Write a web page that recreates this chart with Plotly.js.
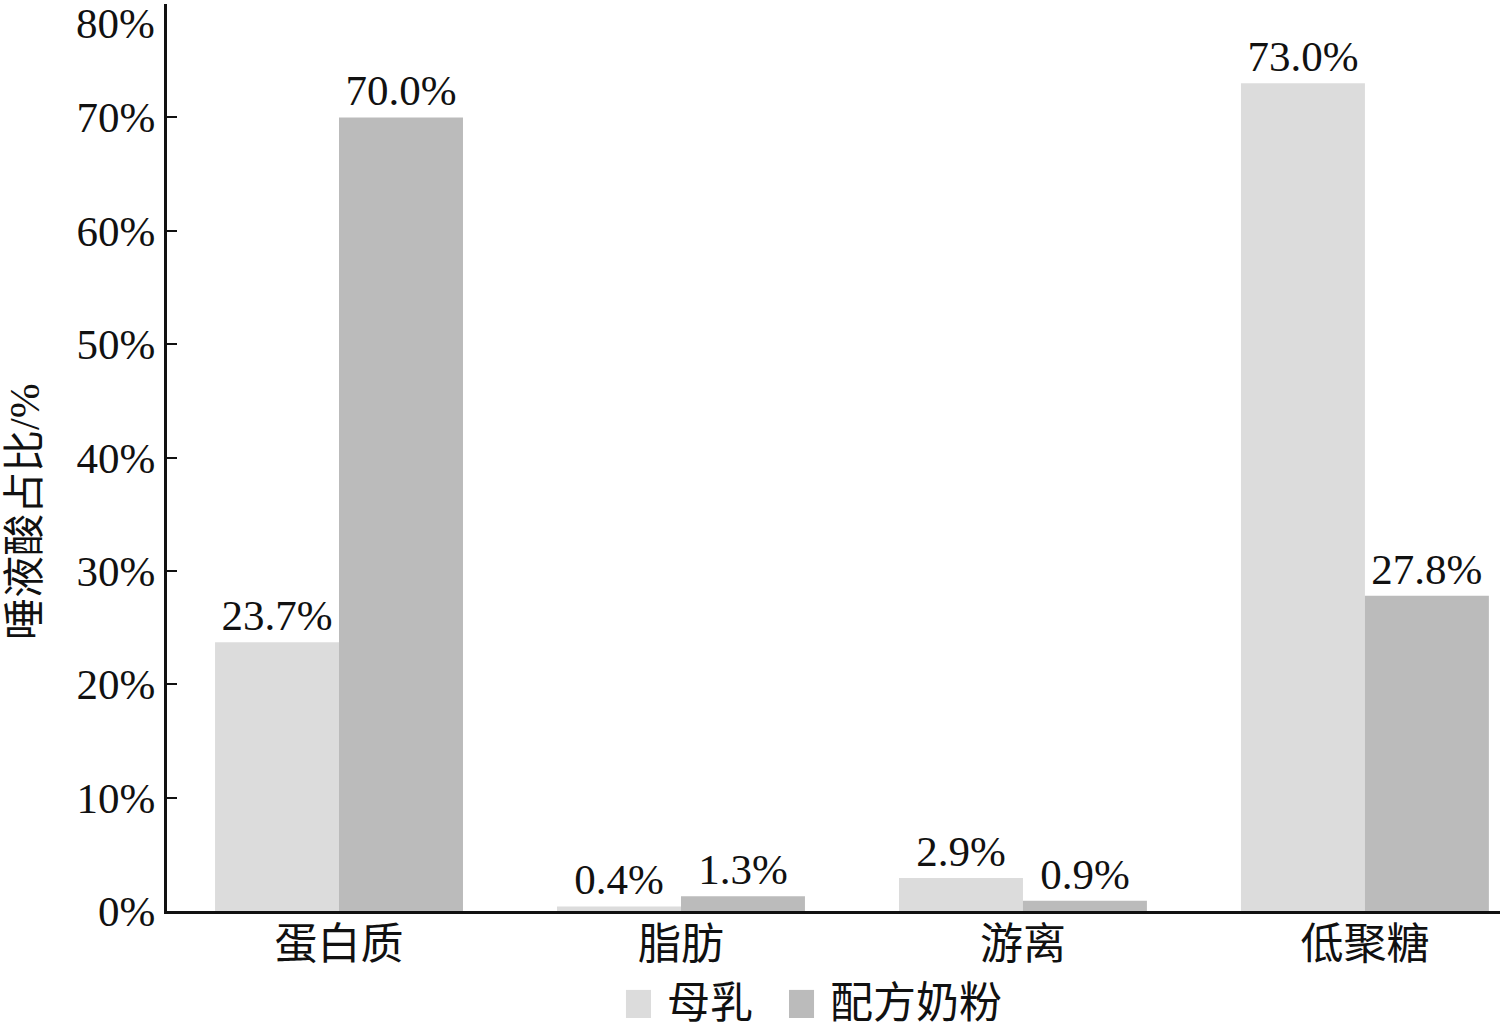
<!DOCTYPE html>
<html>
<head>
<meta charset="utf-8">
<script src="https://cdn.plot.ly/plotly-3.0.1.min.js"></script>
<style>
  html, body { margin: 0; padding: 0; background: #fff; }
  #chart { width: 1500px; height: 1031px; }
</style>
</head>
<body>
<div id="chart"></div>
<script>
// Sialic acid distribution by component: breast milk vs infant formula
const categories = ['蛋白质', '脂肪', '游离', '低聚糖'];
const breastMilk = [23.7, 0.4, 2.9, 73.0];
const formula = [70.0, 1.3, 0.9, 27.8];
const seriesNames = ['母乳', '配方奶粉'];
const seriesColors = ['#dcdcdc', '#bbbbbb'];
const yTickVals = [0, 10, 20, 30, 40, 50, 60, 70, 80];
const yTickText = ['0%', '10%', '20%', '30%', '40%', '50%', '60%', '70%', '80%'];
const yTitle = '唾液酸占比/%';

const FONT = '"Liberation Serif", "Times New Roman", "Noto Sans CJK SC", serif';
const INK = '#111';
const SIZE = 43;

const makeTrace = (values, i) => ({
  type: 'bar',
  name: seriesNames[i],
  x: categories,
  y: values,
  marker: { color: seriesColors[i], line: { width: 0 } },
  text: values.map(v => v.toFixed(1) + '%'),
  textposition: 'outside',
  textfont: { family: FONT, size: SIZE, color: INK },
  cliponaxis: false,
  showlegend: false,
  hoverinfo: 'x+y'
});

const data = [makeTrace(breastMilk, 0), makeTrace(formula, 1)];

// The top tick label sits a little below its tick so it stays on the page
const topIdx = yTickVals.length - 1;
const axisTickText = yTickText.map((t, i) => (i === topIdx ? '' : t));

const annotations = [
  {
    xref: 'paper', yref: 'y', x: 0, y: yTickVals[topIdx],
    xanchor: 'right', yanchor: 'top', xshift: -10, yshift: 6,
    text: yTickText[topIdx], showarrow: false,
    font: { family: FONT, size: SIZE, color: INK }
  },
  {
    xref: 'paper', yref: 'paper', x: -0.1065, y: 0.44,
    xanchor: 'center', yanchor: 'middle', textangle: -90,
    text: yTitle, showarrow: false,
    font: { family: FONT, size: 42, color: INK }
  }
];

// Legend below the axis: swatch + label per series
const legendSwatchX = [[0.3443, 0.3631], [0.4666, 0.4854]];
const legendTextX = [0.3743, 0.4966];
const shapes = [];
seriesNames.forEach((name, i) => {
  shapes.push({
    type: 'rect', xref: 'paper', yref: 'paper',
    x0: legendSwatchX[i][0], x1: legendSwatchX[i][1],
    y0: -0.1180, y1: -0.0870,
    fillcolor: seriesColors[i], line: { width: 0 }
  });
  annotations.push({
    xref: 'paper', yref: 'paper', x: legendTextX[i], y: -0.1015,
    xanchor: 'left', yanchor: 'middle', text: name, showarrow: false,
    borderpad: 0,
    font: { family: FONT, size: SIZE, color: INK }
  });
});

const layout = {
  width: 1500,
  height: 1031,
  margin: { l: 167, r: 0, t: 4, b: 120, autoexpand: false },
  paper_bgcolor: '#fff',
  plot_bgcolor: '#fff',
  font: { family: FONT, size: SIZE, color: INK },
  barmode: 'group',
  bargap: 0.275,
  bargroupgap: 0,
  showlegend: false,
  xaxis: {
    type: 'category',
    range: [-0.503, 3.395],
    showline: true,
    linecolor: INK,
    linewidth: 3,
    ticks: '',
    showgrid: false,
    zeroline: false,
    ticklabelstandoff: -7,
    tickfont: { family: FONT, size: SIZE, color: INK }
  },
  yaxis: {
    range: [0, 80],
    tickvals: yTickVals,
    ticktext: axisTickText,
    showline: true,
    linecolor: INK,
    linewidth: 3,
    ticks: 'inside',
    ticklen: 10,
    tickwidth: 2,
    tickcolor: INK,
    showgrid: false,
    zeroline: false,
    tickfont: { family: FONT, size: SIZE, color: INK }
  },
  annotations: annotations,
  shapes: shapes
};

Plotly.newPlot('chart', data, layout, { displayModeBar: false, staticPlot: true });
</script>
</body>
</html>
